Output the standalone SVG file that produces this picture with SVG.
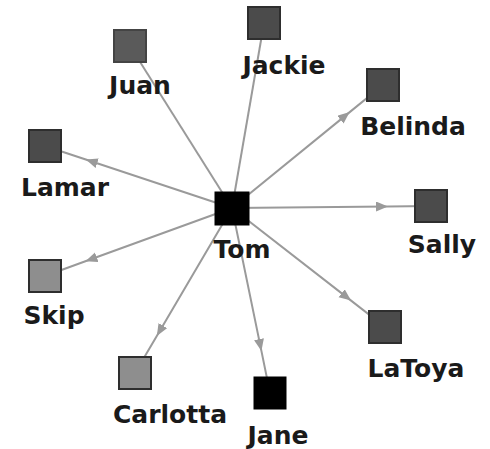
<svg xmlns="http://www.w3.org/2000/svg" width="490" height="449" viewBox="0 0 490 449">
  <style>
    .edge { fill: none; stroke: #9a9a9a; stroke-width: 2; }
    .arrowed { marker-mid: url(#head); }
    .box { stroke: #2e2e2e; stroke-width: 2; }
    .dark { fill: #4b4b4b; }
    .mid { fill: #5a5a5a; stroke: #444; }
    .light { fill: #8e8e8e; }
    .black { fill: #000; stroke: #000; }
    .label { font-family: "DejaVu Sans", Verdana, sans-serif; font-weight: bold; font-size: 25px; fill: #1a1a1a; text-anchor: middle; }
  </style>
  <defs>
    <marker id="head" markerUnits="userSpaceOnUse" markerWidth="13" markerHeight="11" refX="12" refY="5" orient="auto">
      <path d="M0,0 L12,5 L0,10 Z" fill="#9a9a9a"/>
    </marker>
  </defs>
  <rect width="490" height="449" fill="#fff"/>

  <!-- connectors: each runs from Tom to a contact, arrowhead placed ahead of the target -->
  <g id="edges">
    <path class="edge" d="M130,46 L232,208"/>
    <path class="edge" d="M264,23 L232,208"/>
    <path class="edge arrowed" d="M232,208 L349.7,112.1 L383,85"/>
    <path class="edge arrowed" d="M232,208 L388,206.4 L431,206"/>
    <path class="edge arrowed" d="M232,208 L351.1,300.6 L385,327"/>
    <path class="edge arrowed" d="M232,208 L261.4,350.9 L270,393"/>
    <path class="edge arrowed" d="M232,208 L156.8,335.9 L135,373"/>
    <path class="edge arrowed" d="M232,208 L85.4,261.3 L45,276"/>
    <path class="edge arrowed" d="M232,208 L85.8,159.5 L45,146"/>
  </g>

  <g id="node-juan">
    <rect class="box mid" x="114" y="30" width="32" height="32"/>
    <text class="label" x="140" y="94">Juan</text>
  </g>
  <g id="node-jackie">
    <rect class="box dark" x="248" y="7" width="32" height="32"/>
    <text class="label" x="284" y="74">Jackie</text>
  </g>
  <g id="node-belinda">
    <rect class="box dark" x="367" y="69" width="32" height="32"/>
    <text class="label" x="413" y="135">Belinda</text>
  </g>
  <g id="node-lamar">
    <rect class="box dark" x="29" y="130" width="32" height="32"/>
    <text class="label" x="65" y="196">Lamar</text>
  </g>
  <g id="node-tom">
    <rect class="black" x="215" y="192" width="34" height="33"/>
    <text class="label" x="242" y="258">Tom</text>
  </g>
  <g id="node-sally">
    <rect class="box dark" x="415" y="190" width="32" height="32"/>
    <text class="label" x="442" y="253">Sally</text>
  </g>
  <g id="node-skip">
    <rect class="box light" x="29" y="260" width="32" height="32"/>
    <text class="label" x="54" y="324">Skip</text>
  </g>
  <g id="node-latoya">
    <rect class="box dark" x="369" y="311" width="32" height="32"/>
    <text class="label" x="416" y="377">LaToya</text>
  </g>
  <g id="node-carlotta">
    <rect class="box light" x="119" y="357" width="32" height="32"/>
    <text class="label" x="170" y="423">Carlotta</text>
  </g>
  <g id="node-jane">
    <rect class="black" x="254" y="377" width="32" height="32"/>
    <text class="label" x="278" y="444">Jane</text>
  </g>
</svg>
